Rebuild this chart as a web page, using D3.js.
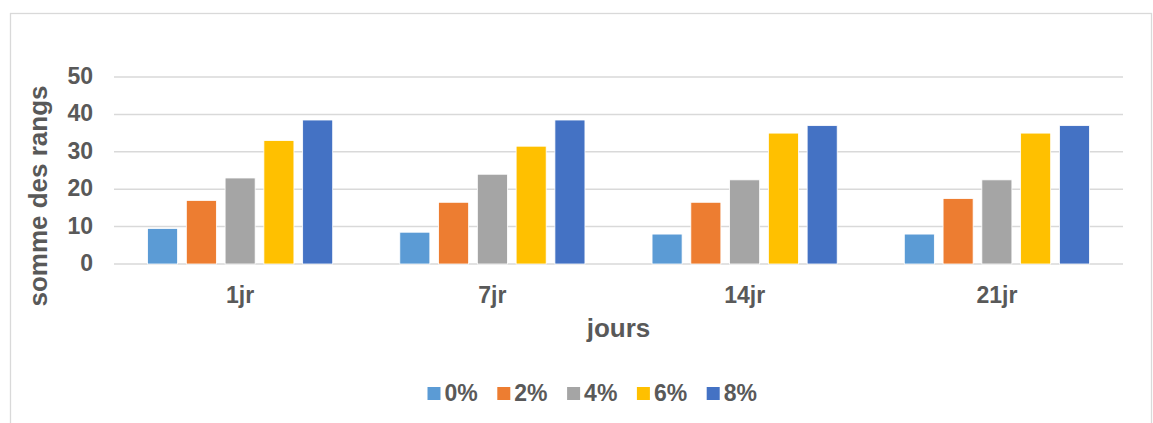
<!DOCTYPE html>
<html>
<head>
<meta charset="utf-8">
<script src="https://cdn.jsdelivr.net/npm/d3@7"></script>
<style>
  body { margin: 0; background: #fff; }
  svg { display: block; font-family: "Liberation Sans", Arial, sans-serif; }
</style>
</head>
<body>
<svg width="1153" height="423"></svg>
<script>
// donnees du graphique
var categories = ["1jr", "7jr", "14jr", "21jr"];
var series = ["0%", "2%", "4%", "6%", "8%"];
var values = [
  [9.5, 17, 23, 33, 38.5],
  [8.5, 16.5, 24, 31.5, 38.5],
  [8, 16.5, 22.5, 35, 37],
  [8, 17.5, 22.5, 35, 37]
];
var colors = ["#5b9bd5", "#ed7d31", "#a5a5a5", "#ffc000", "#4472c4"];
var yTicks = [0, 10, 20, 30, 40, 50];

var svg = d3.select("svg"),
    width = +svg.attr("width"),
    height = +svg.attr("height");

var textColour = "#595959";
var margin = {left: 114, right: 30, top: 77, bottom: 159};

// cadre du graphique
svg.append("rect")
  .attr("x", 10.5).attr("y", 13.5)
  .attr("width", 1141).attr("height", 420)
  .attr("fill", "none")
  .attr("stroke", "#d9d9d9")
  .attr("stroke-width", 1.3);

var x0 = d3.scaleBand()
  .domain(categories)
  .range([margin.left, width - margin.right])
  .paddingInner(0.266)
  .paddingOuter(0.133);

var x1 = d3.scaleBand()
  .domain(series)
  .range([0, x0.bandwidth()])
  .paddingInner(0.225);

var y = d3.scaleLinear()
  .domain([0, 50])
  .range([height - margin.bottom, margin.top]);

// lignes de grille
svg.append("g")
  .selectAll("line")
  .data(yTicks)
  .enter().append("line")
  .attr("x1", margin.left)
  .attr("x2", width - margin.right)
  .attr("y1", function(d) { return y(d); })
  .attr("y2", function(d) { return y(d); })
  .attr("stroke", "#d9d9d9")
  .attr("stroke-width", 1.5);

// etiquettes de l'axe y
svg.append("g")
  .selectAll("text")
  .data(yTicks)
  .enter().append("text")
  .attr("x", 93)
  .attr("y", function(d) { return y(d) + 7; })
  .attr("text-anchor", "end")
  .style("font-size", "23px")
  .style("font-weight", "bold")
  .attr("fill", textColour)
  .text(function(d) { return d; });

// barres
var groups = svg.append("g")
  .selectAll("g")
  .data(values)
  .enter().append("g")
  .attr("transform", function(d, i) { return "translate(" + x0(categories[i]) + ",0)"; });

groups.selectAll("rect")
  .data(function(d) { return d; })
  .enter().append("rect")
  .attr("x", function(d, i) { return x1(series[i]); })
  .attr("y", function(d) { return y(d); })
  .attr("width", x1.bandwidth())
  .attr("height", function(d) { return y(0) - y(d); })
  .attr("fill", function(d, i) { return colors[i]; })
  .attr("stroke", "#fff")
  .attr("stroke-width", 0.8);

// etiquettes des categories
svg.append("g")
  .selectAll("text")
  .data(categories)
  .enter().append("text")
  .attr("x", function(d) { return x0(d) + x0.bandwidth() / 2; })
  .attr("y", 303)
  .attr("text-anchor", "middle")
  .style("font-size", "23px")
  .style("font-weight", "bold")
  .attr("fill", textColour)
  .text(function(d) { return d; });

// titre de l'axe x
svg.append("text")
  .attr("x", x0.range()[0] + (x0.range()[1] - x0.range()[0]) / 2)
  .attr("y", 337)
  .attr("text-anchor", "middle")
  .style("font-size", "26px")
  .style("font-weight", "bold")
  .attr("fill", textColour)
  .text("jours");

// titre de l'axe y
svg.append("text")
  .attr("transform", "translate(47,196) rotate(-90)")
  .attr("text-anchor", "middle")
  .style("font-size", "26px")
  .style("font-weight", "bold")
  .attr("fill", textColour)
  .text("somme des rangs");

// legende
var legend = svg.append("g")
  .selectAll("g")
  .data(series)
  .enter().append("g")
  .attr("transform", function(d, i) { return "translate(" + (427.5 + i * 69.8) + ",387)"; });

legend.append("rect")
  .attr("width", 13).attr("height", 13)
  .attr("fill", function(d, i) { return colors[i]; });

legend.append("text")
  .attr("x", 17)
  .attr("y", 14)
  .style("font-size", "23px")
  .style("font-weight", "bold")
  .attr("fill", textColour)
  .text(function(d) { return d; });
</script>
</body>
</html>
